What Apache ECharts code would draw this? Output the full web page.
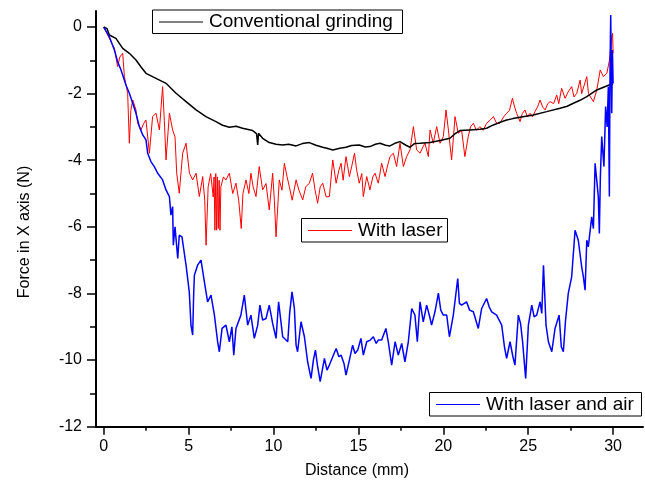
<!DOCTYPE html>
<html><head><meta charset="utf-8">
<script src="https://cdn.jsdelivr.net/npm/echarts@6/dist/echarts.min.js"></script>
<style>html,body{margin:0;padding:0;background:#fff}#c{width:645px;height:493px}</style>
</head><body><div id="c"></div>
<script>
var seriesNames = ['Conventional grinding', 'With laser', 'With laser and air'];
var seriesColors = ['#000000', '#ff0000', '#0000ff'];
var xTicks = [0, 5, 10, 15, 20, 25, 30];
var yTicks = [-12, -10, -8, -6, -4, -2, 0];
var conventional = [[0,0],[0.2,-0.05],[0.33,-0.24],[0.72,-0.34],[1.12,-0.64],[1.51,-0.79],[1.9,-0.99],[2.2,-1.2],[2.49,-1.39],[3.08,-1.54],[3.67,-1.69],[4.26,-1.99],[4.85,-2.24],[5.44,-2.49],[6.02,-2.69],[6.61,-2.84],[7.0,-2.95],[7.4,-3.01],[7.8,-2.98],[8.18,-3.04],[8.77,-3.11],[9.0,-3.2],[9.07,-3.54],[9.12,-3.19],[9.36,-3.34],[9.75,-3.47],[10.15,-3.52],[10.54,-3.54],[10.9,-3.52],[11.33,-3.57],[11.7,-3.5],[12.11,-3.47],[12.5,-3.55],[12.9,-3.61],[13.2,-3.65],[13.49,-3.69],[13.9,-3.64],[14.27,-3.61],[14.6,-3.56],[15.05,-3.54],[15.4,-3.6],[15.68,-3.59],[16.0,-3.52],[16.27,-3.49],[16.6,-3.55],[16.86,-3.57],[17.2,-3.48],[17.45,-3.44],[17.8,-3.55],[18.04,-3.61],[18.3,-3.5],[18.63,-3.49],[19.22,-3.47],[19.81,-3.41],[20.39,-3.34],[20.7,-3.2],[20.98,-3.11],[21.57,-3.09],[22.16,-3.07],[22.55,-3.04],[22.95,-2.94],[23.35,-2.86],[23.73,-2.79],[24.1,-2.75],[24.52,-2.71],[25.3,-2.64],[26.09,-2.54],[26.87,-2.44],[27.3,-2.38],[27.66,-2.29],[28.05,-2.2],[28.45,-2.09],[29.04,-1.89],[29.62,-1.77],[29.92,-1.71],[30.0,-1.72]];
var withLaser = [[0,0],[0.33,-0.34],[0.63,-0.64],[0.82,-1.19],[0.95,-0.9],[1.12,-0.79],[1.22,-1.49],[1.41,-1.99],[1.51,-3.49],[1.6,-2.5],[1.71,-2.19],[1.9,-2.49],[2.0,-2.89],[2.2,-3.09],[2.35,-2.9],[2.49,-2.79],[2.69,-3.79],[2.88,-2.69],[3.08,-2.59],[3.28,-3.09],[3.47,-1.79],[3.57,-2.8],[3.67,-3.99],[3.87,-2.59],[4.06,-3.09],[4.2,-3.3],[4.3,-4.39],[4.45,-4.99],[4.65,-3.79],[4.85,-3.49],[5.05,-4.39],[5.24,-4.59],[5.44,-4.39],[5.63,-5.09],[5.83,-4.49],[5.95,-5.2],[6.03,-6.55],[6.15,-4.8],[6.3,-4.4],[6.45,-5.1],[6.5,-4.5],[6.55,-6.1],[6.6,-4.4],[6.65,-6.1],[6.7,-4.5],[6.75,-6.05],[6.8,-4.6],[6.85,-6.1],[6.9,-4.8],[7.05,-4.5],[7.2,-4.59],[7.4,-4.39],[7.6,-5.0],[7.79,-4.69],[7.95,-5.2],[8.1,-6.05],[8.2,-5.0],[8.38,-4.59],[8.55,-5.0],[8.67,-4.39],[8.8,-4.8],[8.97,-5.09],[9.16,-4.19],[9.36,-4.89],[9.56,-4.7],[9.75,-5.49],[9.95,-4.39],[10.05,-5.2],[10.15,-6.3],[10.34,-4.59],[10.5,-4.9],[10.64,-4.09],[10.8,-4.5],[10.93,-4.79],[11.1,-5.2],[11.33,-4.59],[11.5,-4.9],[11.72,-5.19],[11.9,-4.8],[12.11,-4.69],[12.3,-4.39],[12.45,-4.9],[12.6,-5.29],[12.75,-4.8],[12.9,-4.69],[13.1,-5.1],[13.29,-5.09],[13.49,-3.99],[13.69,-4.69],[13.85,-4.3],[13.98,-4.09],[14.1,-4.6],[14.27,-3.89],[14.47,-4.49],[14.6,-4.2],[14.77,-3.79],[14.9,-4.3],[15.05,-4.69],[15.2,-4.4],[15.29,-5.09],[15.49,-4.49],[15.68,-4.89],[15.85,-4.5],[15.98,-4.39],[16.17,-4.69],[16.37,-4.09],[16.57,-4.49],[16.7,-4.2],[16.86,-3.89],[17.06,-3.79],[17.25,-4.19],[17.45,-3.49],[17.65,-4.19],[17.84,-3.89],[18.04,-3.69],[18.24,-2.99],[18.43,-3.69],[18.63,-3.79],[18.8,-3.6],[18.92,-3.49],[19.12,-3.89],[19.22,-3.09],[19.41,-3.49],[19.61,-2.99],[19.81,-3.49],[20.0,-3.29],[20.16,-2.49],[20.3,-3.09],[20.49,-3.99],[20.6,-3.3],[20.69,-2.69],[20.88,-3.19],[21.08,-3.1],[21.27,-3.89],[21.47,-3.29],[21.6,-3.0],[21.77,-2.89],[21.95,-3.1],[22.16,-2.99],[22.35,-3.1],[22.55,-2.89],[22.75,-2.8],[22.95,-2.69],[23.15,-2.9],[23.34,-2.89],[23.55,-2.7],[23.73,-2.59],[23.9,-2.5],[24.07,-2.14],[24.2,-2.4],[24.32,-2.59],[24.52,-2.84],[24.65,-2.6],[24.81,-2.49],[24.95,-2.7],[25.11,-2.59],[25.25,-2.7],[25.4,-2.54],[25.55,-2.4],[25.7,-2.19],[25.85,-2.4],[26.0,-2.49],[26.15,-2.3],[26.29,-2.24],[26.5,-2.3],[26.68,-2.04],[26.8,-2.3],[26.97,-1.84],[27.17,-2.14],[27.35,-1.95],[27.56,-1.79],[27.7,-2.1],[27.86,-1.99],[28.06,-1.59],[28.15,-2.0],[28.25,-2.05],[28.45,-1.49],[28.55,-2.0],[28.65,-2.04],[28.84,-2.24],[29.04,-1.89],[29.24,-1.29],[29.43,-1.49],[29.63,-1.39],[29.79,-0.99],[29.92,-0.29],[29.97,-0.19],[30.0,-0.79]];
var withLaserAir = [[0,0],[0.33,-0.29],[0.63,-0.69],[0.82,-1.04],[1.02,-1.29],[1.31,-1.74],[1.51,-1.99],[1.71,-2.29],[1.9,-2.59],[2.1,-2.99],[2.3,-3.24],[2.49,-3.39],[2.59,-3.79],[2.78,-4.04],[2.98,-4.19],[3.18,-4.39],[3.47,-4.59],[3.67,-4.89],[3.87,-5.09],[3.96,-5.65],[4.06,-5.39],[4.1,-6.55],[4.2,-6.0],[4.36,-6.95],[4.45,-6.25],[4.61,-6.3],[4.75,-6.8],[4.85,-7.15],[5.04,-7.95],[5.14,-8.95],[5.24,-9.25],[5.3,-8.0],[5.34,-7.45],[5.53,-7.15],[5.73,-7.0],[5.93,-7.65],[6.12,-8.25],[6.32,-8.05],[6.52,-8.65],[6.71,-9.45],[6.81,-9.75],[6.97,-9.05],[7.2,-8.95],[7.4,-9.45],[7.55,-9.0],[7.66,-9.85],[7.79,-9.05],[8.08,-8.65],[8.28,-8.05],[8.48,-8.95],[8.67,-8.65],[8.87,-9.35],[9.07,-8.95],[9.2,-8.35],[9.36,-8.8],[9.56,-8.75],[9.75,-8.35],[9.95,-8.9],[10.15,-9.35],[10.3,-8.25],[10.45,-8.9],[10.54,-9.3],[10.84,-9.45],[10.95,-8.6],[11.09,-7.95],[11.23,-8.45],[11.33,-9.55],[11.42,-9.75],[11.62,-8.85],[11.82,-9.3],[12.01,-10.05],[12.21,-10.55],[12.35,-10.0],[12.47,-9.7],[12.6,-10.2],[12.75,-10.65],[13.0,-9.95],[13.15,-10.3],[13.29,-10.15],[13.49,-9.9],[13.69,-9.65],[13.85,-9.9],[13.98,-9.85],[14.15,-10.1],[14.27,-10.45],[14.47,-10.0],[14.66,-9.55],[14.8,-9.8],[14.96,-9.7],[15.15,-9.35],[15.29,-9.85],[15.49,-9.45],[15.7,-9.4],[15.88,-9.3],[16.05,-9.5],[16.17,-9.4],[16.37,-9.4],[16.62,-9.05],[16.76,-9.45],[16.96,-10.15],[17.16,-9.45],[17.35,-9.85],[17.55,-9.5],[17.74,-10.05],[17.94,-9.45],[18.14,-8.45],[18.33,-8.65],[18.47,-9.45],[18.63,-8.25],[18.82,-8.85],[19.02,-8.35],[19.2,-8.7],[19.31,-8.95],[19.51,-8.55],[19.71,-7.99],[19.85,-8.5],[20.0,-8.65],[20.2,-8.65],[20.36,-9.3],[20.59,-8.65],[20.85,-7.55],[20.95,-8.3],[21.08,-8.35],[21.37,-8.25],[21.55,-8.5],[21.77,-8.55],[22.06,-9.05],[22.26,-8.45],[22.55,-8.15],[22.7,-8.4],[22.85,-8.55],[23.14,-8.65],[23.44,-8.95],[23.6,-9.6],[23.73,-9.95],[23.93,-9.45],[24.1,-9.9],[24.22,-10.15],[24.42,-8.65],[24.55,-8.9],[24.67,-9.45],[24.85,-10.55],[25.01,-8.95],[25.21,-8.35],[25.35,-8.7],[25.5,-8.65],[25.7,-8.25],[25.8,-8.6],[25.9,-7.15],[26.05,-8.95],[26.19,-9.45],[26.39,-9.75],[26.58,-9.05],[26.82,-8.65],[26.95,-9.6],[27.07,-9.75],[27.2,-8.8],[27.36,-8.0],[27.46,-8.05],[27.56,-7.5],[27.62,-7.55],[27.76,-6.1],[27.86,-6.15],[27.95,-6.4],[28.05,-6.8],[28.15,-7.2],[28.25,-7.5],[28.35,-7.9],[28.4,-7.95],[28.45,-6.4],[28.54,-6.6],[28.74,-5.7],[28.84,-6.05],[28.94,-4.09],[29.13,-5.1],[29.19,-6.2],[29.25,-4.5],[29.33,-3.29],[29.46,-4.19],[29.56,-2.39],[29.65,-3.0],[29.72,-1.79],[29.78,-5.09],[29.82,-1.19],[29.86,0.36],[29.92,-2.59],[29.96,-0.69],[30.0,-1.7]];

var FONT = "'Liberation Sans', Arial, sans-serif";
var chart = echarts.init(document.getElementById('c'), null, {renderer: 'canvas'});

// Legend boxes (one per series, placed as in the original figure), built as graphic groups
function legendGroup(idx, left, top, width) {
  return {
    type: 'group', left: left, top: top, z: 10,
    children: [
      {type: 'rect', shape: {x: 0.5, y: 0.5, width: width, height: 23.5}, style: {fill: '#fff', stroke: '#000', lineWidth: 1}},
      {type: 'line', shape: {x1: 7, y1: 12.5, x2: 51, y2: 12.5}, style: {stroke: seriesColors[idx], lineWidth: 1}},
      {type: 'text', x: 57, y: 12.5, style: {text: seriesNames[idx], font: '19px ' + FONT, fill: '#000', textAlign: 'left', textVerticalAlign: 'middle'}}
    ]
  };
}
var axisLineStyle = {color: '#000', width: 2};
chart.setOption({
  animation: false,
  backgroundColor: '#fff',
  grid: [
    {left: 96, top: 11, right: 2, bottom: 66.3, outerBoundsMode: 'none', containLabel: false},
    {left: 103.7, top: -39.6, right: -53, bottom: 66.3, outerBoundsMode: 'none', containLabel: false}
  ],
  xAxis: [
    {gridIndex: 0, type: 'value', min: 0, max: 1, axisLine: {show: true, onZero: false, lineStyle: axisLineStyle}, axisTick: {show: false}, axisLabel: {show: false}, splitLine: {show: false}},
    {gridIndex: 1, type: 'value', min: 0, max: 35, interval: 5,
     axisLine: {show: false, onZero: false},
     axisTick: {show: true, length: 8, lineStyle: {color: '#000', width: 1.5}},
     minorTick: {show: true, splitNumber: 2, length: 4, lineStyle: {color: '#000', width: 1.5}},
     axisLabel: {show: true, margin: 12, fontFamily: FONT, fontSize: 16, color: '#000',
       formatter: function (v) { return xTicks.indexOf(v) >= 0 ? String(v) : ''; }},
     splitLine: {show: false}}
  ],
  yAxis: [
    {gridIndex: 0, type: 'value', min: 0, max: 1, axisLine: {show: true, onZero: false, lineStyle: axisLineStyle}, axisTick: {show: false}, axisLabel: {show: false}, splitLine: {show: false}},
    {gridIndex: 1, type: 'value', min: -12, max: 2, interval: 2, offset: 7.7,
     axisLine: {show: false, onZero: false},
     axisTick: {show: true, length: 9, lineStyle: {color: '#000', width: 1.5}},
     minorTick: {show: true, splitNumber: 2, length: 6, lineStyle: {color: '#000', width: 1.5}},
     axisLabel: {show: true, margin: 14, fontFamily: FONT, fontSize: 16, color: '#000',
       formatter: function (v) { return yTicks.indexOf(v) >= 0 ? String(v) : ''; }},
     splitLine: {show: false}}
  ],
  graphic: [
    legendGroup(0, 152, 9.5, 250),
    legendGroup(1, 301, 218, 146),
    legendGroup(2, 429, 392, 212),
    {type: 'text', x: 357, y: 471, style: {text: 'Distance (mm)', font: '16px ' + FONT, fill: '#000', textAlign: 'center', textVerticalAlign: 'middle'}},
    {type: 'text', x: 25, y: 232, rotation: Math.PI / 2, style: {text: 'Force in X axis (N)', font: '16px ' + FONT, fill: '#000', textAlign: 'center', textVerticalAlign: 'middle'}}
  ],
  series: [
    {name: seriesNames[1], type: 'line', xAxisIndex: 1, yAxisIndex: 1, data: withLaser, symbol: 'none', color: seriesColors[1], lineStyle: {color: seriesColors[1], width: 1}, z: 2},
    {name: seriesNames[0], type: 'line', xAxisIndex: 1, yAxisIndex: 1, data: conventional, symbol: 'none', color: seriesColors[0], lineStyle: {color: seriesColors[0], width: 1.5}, z: 3},
    {name: seriesNames[2], type: 'line', xAxisIndex: 1, yAxisIndex: 1, data: withLaserAir, symbol: 'none', color: seriesColors[2], lineStyle: {color: seriesColors[2], width: 1.5}, z: 4}
  ]
});
</script></body></html>
